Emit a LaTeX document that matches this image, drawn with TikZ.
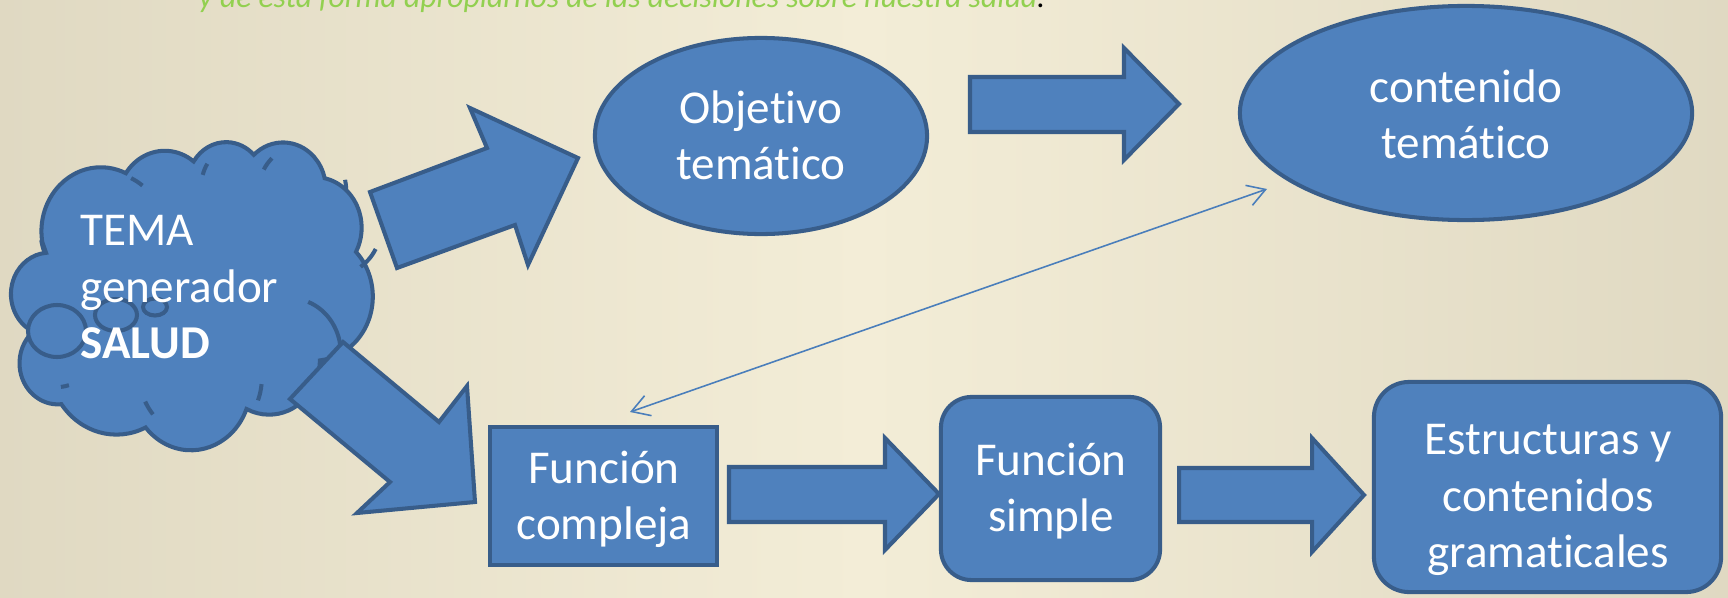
\documentclass[tikz,border=0pt]{standalone}
\usepackage{fontspec}
\setmainfont{Carlito}[Ligatures=NoCommon]
\usetikzlibrary{shapes.geometric,arrows.meta}
\definecolor{boxfill}{HTML}{4F81BD}
\definecolor{boxline}{HTML}{385D8A}
\definecolor{thinblue}{HTML}{4A7EBB}
\definecolor{topgreen}{HTML}{92D050}
\definecolor{bgL}{HTML}{A8A591}
\definecolor{bgM}{HTML}{DCD5BE}
\definecolor{bgC}{HTML}{F3EDD7}
\definecolor{bgR}{HTML}{A39F8E}
\pgfdeclarehorizontalshading{bgshade}{100bp}{color(0bp)=(bgL); color(20bp)=(bgM); color(50bp)=(bgC); color(80bp)=(bgM); color(100bp)=(bgR)}
\pgfmathsetmacro\csx{380/432}
\pgfmathsetmacro\csy{301/432}
\newcommand\ooarc[4]{arc[start angle={atan2((#1)*\csx*sin(#3),(#2)*\csy*cos(#3))}, delta angle={mod(atan2((#1)*\csx*sin((#3)+(#4)),(#2)*\csy*cos((#3)+(#4)))-atan2((#1)*\csx*sin(#3),(#2)*\csy*cos(#3))+720,360)}, x radius={(#1)*\csx}, y radius={(#2)*\csy}]}
\newcommand\cpt[2]{({8+(#1)*\csx},{142+(#2)*\csy})}
\tikzset{
  shapestyle/.style={fill=boxfill, draw=boxline, line width=1.15pt, line join=miter},
  cloudline/.style={draw=boxline, line width=1.15pt},
  lbl/.style={text=white, font=\fontsize{13.4}{16}\selectfont, align=center, inner sep=0pt},
  thinarrow/.style={draw=thinblue, line width=0.45pt, {Straight Barb[length=5pt,width=6pt]}-{Straight Barb[length=5pt,width=6pt]}}
}
\begin{document}
\begin{tikzpicture}[x=0.01cm, y=-0.01cm]
\useasboundingbox (0,0) rectangle (1728,597);
\clip (0,0) rectangle (1728,597);
\shade[shading=bgshade] (0,0) rectangle (1728,597);

% intro text (cut at top, as in the reference)
\node[anchor=base west, inner sep=0pt, font=\fontsize{9}{11}\selectfont\itshape, text=topgreen] (intro) at (198,8) {y de esta forma apropiarnos de las decisiones sobre nuestra salud\textcolor{black}{.}};

% cloud
\draw[shapestyle] \cpt{39.00}{143.70} \ooarc{67.53}{91.90}{-190.4875}{123.7805} \ooarc{53.33}{72.67}{-144.1024}{89.9452} \ooarc{43.65}{59.45}{-145.8079}{99.7230} \ooarc{48.57}{65.95}{-130.9861}{117.2417} \ooarc{53.33}{72.73}{-78.7089}{109.0269} \ooarc{67.75}{92.20}{-46.2673}{130.2690} \ooarc{57.85}{78.67}{0.6250}{114.0333} \ooarc{67.52}{92.15}{22.4516}{115.1726} \ooarc{77.20}{105.43}{66.2426}{75.7110} \ooarc{43.60}{59.18}{-274.9421}{146.7356} \ooarc{43.45}{59.45}{-246.8285}{152.5189} -- cycle;
\draw[cloudline] \cpt{46.93}{261.77} \ooarc{43.45}{59.45}{86.742}{26.4295}
 \cpt{69.28}{348.99} \ooarc{43.60}{59.18}{73.6105}{11.4475}
 \cpt{164.78}{390.90} \ooarc{67.52}{92.15}{137.6242}{14.0811}
 \cpt{288.27}{347.51} \ooarc{67.52}{92.15}{6.4533}{15.9984}
 \cpt{341.29}{229.54} \ooarc{57.85}{78.67}{-70.2924}{70.9174}
 \cpt{417.98}{153.54} \ooarc{53.33}{72.73}{30.3180}{27.7515}
 \cpt{383.24}{54.26} \ooarc{48.57}{65.95}{-13.7443}{14.8589}
 \cpt{290.78}{39.52} \ooarc{48.57}{65.95}{-149.1815}{18.1954}
 \cpt{221.41}{47.20} \ooarc{43.65}{59.45}{-163.4943}{17.6864}
 \cpt{140.00}{51.92} \ooarc{67.53}{91.90}{-66.7070}{12.3194}
 \cpt{41.27}{157.89} \ooarc{67.53}{91.90}{157.6544}{11.8582};
% callout bubbles
\draw[shapestyle] (57,331) ellipse [x radius=29, y radius=26];
\draw[shapestyle] (116,315) ellipse [x radius=21, y radius=16];
\draw[shapestyle] (155,307) ellipse [x radius=12, y radius=8.5];
\node[lbl, align=left, anchor=west] (tema) at (80,291) {\strut TEMA\\\strut generador\\\strut\textbf{SALUD}};

% block arrows from the cloud
\draw[shapestyle] (397,268) -- (370,192) -- (487,148) -- (470,108) -- (578,158) -- (528,265) -- (515,225) -- cycle;
\draw[shapestyle] (343,342) -- (439,422) -- (467,386) -- (475,502) -- (357,513) -- (390,482) -- (290,399) -- cycle;

% top row
\node[shapestyle, ellipse, minimum width=3.32cm, minimum height=1.96cm, inner sep=0pt] (obj) at (761,136) {};
\node[lbl] (objT) at (761,140) {\strut Objetivo\\\strut temático};
\draw[shapestyle] (970,77) -- (1124,77) -- (1124,48) -- (1179,104) -- (1124,160) -- (1124,132) -- (970,132) -- cycle;
\node[shapestyle, ellipse, minimum width=4.52cm, minimum height=2.14cm, inner sep=0pt] (cont) at (1466,113) {};
\node[lbl] (contT) at (1466,119) {\strut contenido\\\strut temático};

% bottom row
\node[shapestyle, rectangle, minimum width=2.27cm, minimum height=1.38cm, inner sep=0pt] (fc) at (603.5,496) {};
\node[lbl] (fcT) at (604,500) {\strut Función\\\strut compleja};
\draw[shapestyle] (729,467) -- (885,467) -- (885,438) -- (939,494) -- (885,550) -- (885,522) -- (729,522) -- cycle;
\node[shapestyle, rectangle, rounded corners=8.7pt, minimum width=2.19cm, minimum height=1.83cm, inner sep=0pt] (fs) at (1050.5,488.5) {};
\node[lbl] (fsT) at (1051,492) {\strut Función\\\strut simple};
\draw[shapestyle] (1179,468) -- (1312,468) -- (1312,438) -- (1364,495) -- (1312,552) -- (1312,522) -- (1179,522) -- cycle;
\node[shapestyle, rectangle, rounded corners=10pt, minimum width=3.47cm, minimum height=2.10cm, inner sep=0pt] (eg) at (1547.5,487) {};
\node[lbl] (egT) at (1548,500) {\strut Estructuras y\\\strut contenidos\\\strut gramaticales};

% thin double-headed connector
\coordinate (ta) at (630,412);
\coordinate (tb) at (1267,189);
\draw[thinarrow] (ta) -- (tb);
\end{tikzpicture}
\end{document}
